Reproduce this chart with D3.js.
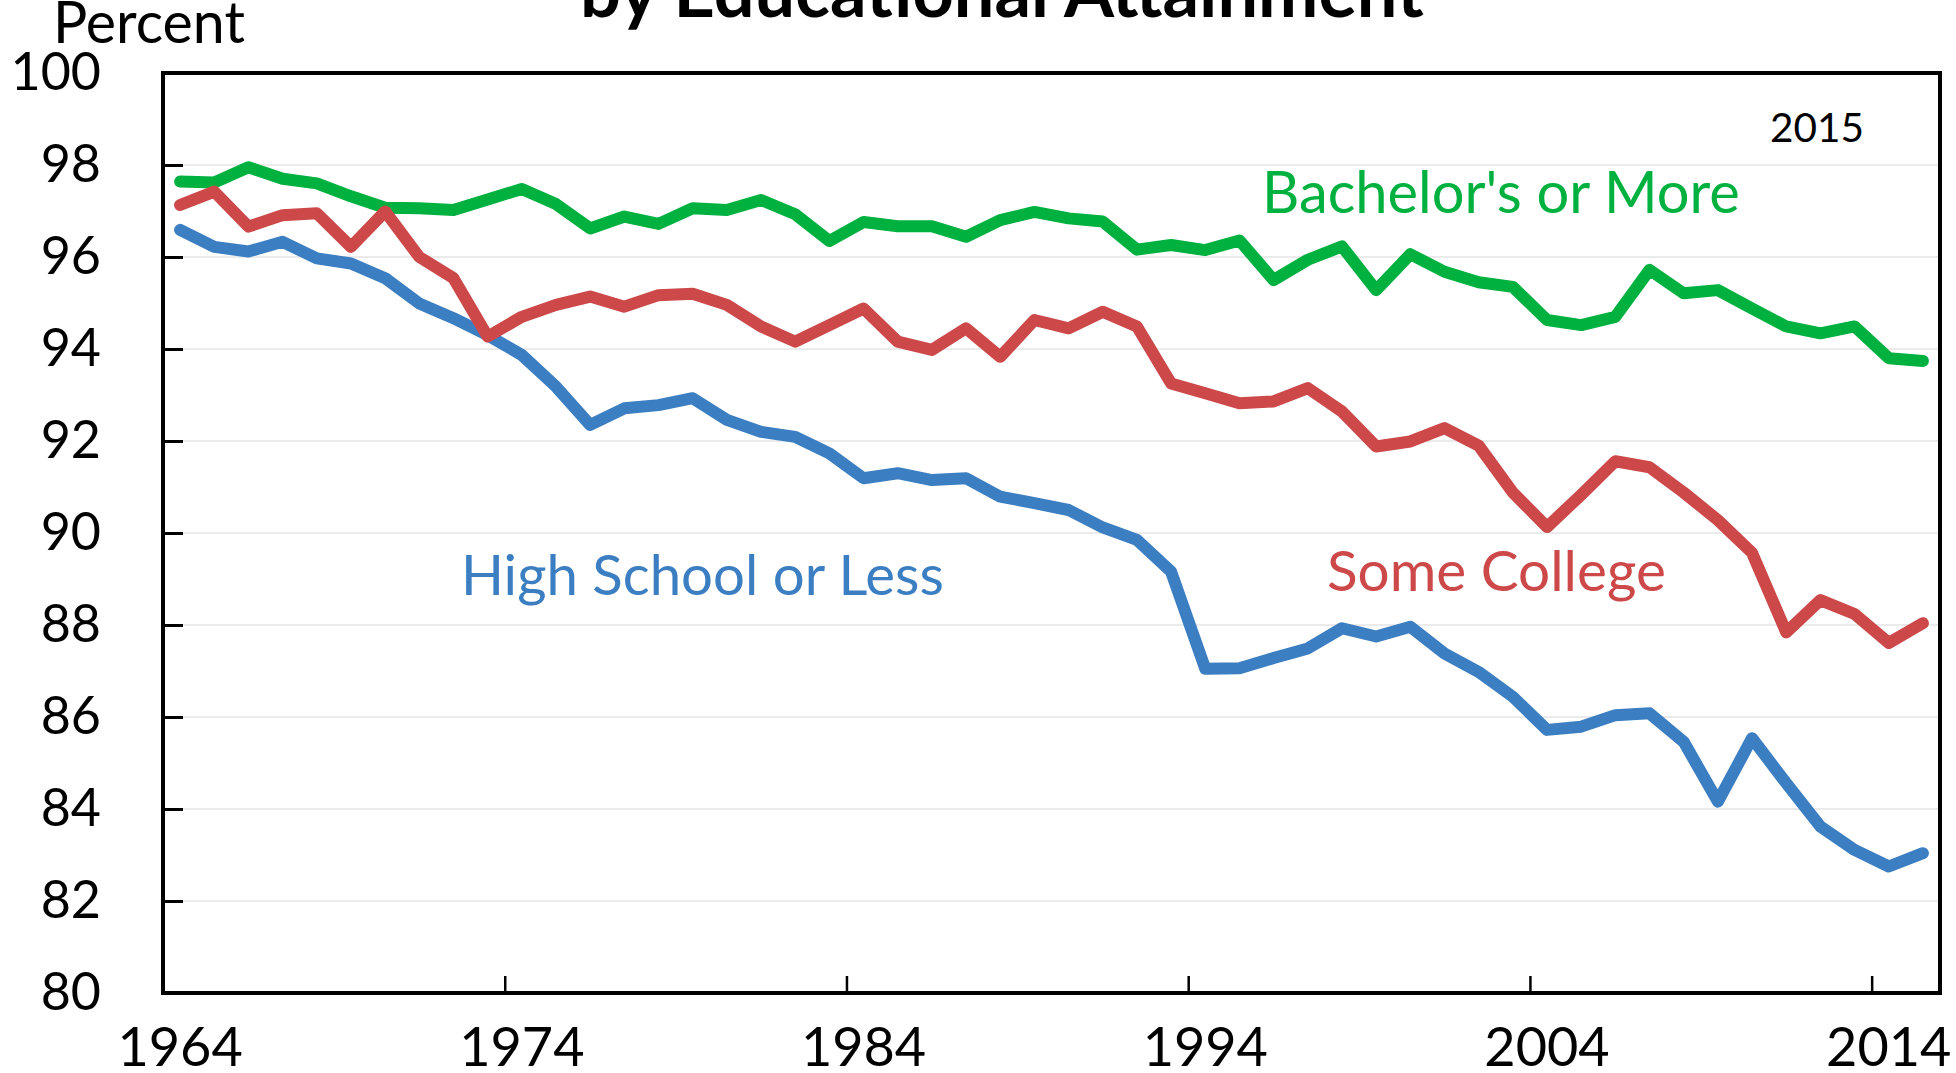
<!DOCTYPE html>
<html>
<head>
<meta charset="utf-8">
<script src="https://cdn.jsdelivr.net/npm/d3@7/dist/d3.min.js"></script>
<style>
  html, body { margin: 0; padding: 0; background: #fff; }
  svg { display: block; }
  text { font-family: Lato, "Open Sans", sans-serif; }
</style>
</head>
<body>
<svg id="chart" width="1956" height="1073"></svg>
<script>
const years = d3.range(1964, 2016);
const bachelorsOrMore = [97.64, 97.62, 97.95, 97.70, 97.60, 97.32, 97.07, 97.06, 97.02, 97.25,
  97.48, 97.15, 96.62, 96.88, 96.72, 97.06, 97.02, 97.24, 96.93, 96.35,
  96.76, 96.67, 96.67, 96.44, 96.80, 96.98, 96.84, 96.77, 96.16, 96.26,
  96.15, 96.36, 95.50, 95.94, 96.23, 95.28, 96.06, 95.68, 95.45, 95.35,
  94.63, 94.52, 94.70, 95.72, 95.21, 95.28, 94.88, 94.49, 94.34, 94.49,
  93.80, 93.74];
const someCollege = [97.13, 97.42, 96.66, 96.91, 96.95, 96.22, 96.99, 96.00, 95.54, 94.27,
  94.70, 94.96, 95.14, 94.92, 95.17, 95.20, 94.96, 94.49, 94.16, 94.52,
  94.88, 94.16, 93.98, 94.45, 93.83, 94.63, 94.45, 94.81, 94.49, 93.25,
  93.04, 92.82, 92.86, 93.15, 92.64, 91.88, 91.99, 92.28, 91.90, 90.88,
  90.13, 90.83, 91.56, 91.43, 90.88, 90.28, 89.57, 87.84, 88.54, 88.24,
  87.61, 88.04];
const highSchoolOrLess = [96.59, 96.22, 96.12, 96.33, 95.97, 95.86, 95.54, 94.99, 94.67, 94.30,
  93.87, 93.18, 92.35, 92.71, 92.78, 92.93, 92.46, 92.20, 92.09, 91.73,
  91.19, 91.30, 91.15, 91.19, 90.79, 90.65, 90.50, 90.12, 89.85, 89.16,
  87.05, 87.06, 87.28, 87.49, 87.93, 87.75, 87.96, 87.38, 86.98, 86.44,
  85.72, 85.79, 86.04, 86.08, 85.46, 84.16, 85.54, 84.56, 83.62, 83.11,
  82.75, 83.04];
const yTicks = [80, 82, 84, 86, 88, 90, 92, 94, 96, 98, 100];
const xTickYears = [1974, 1984, 1994, 2004, 2014];
const xLabelYears = [1964, 1974, 1984, 1994, 2004, 2014];
const seriesNames = ["Bachelor's or More", "High School or Less", "Some College"];

const svg = d3.select("#chart");
const L = 163, R = 1940, T = 73, B = 993;

const x = d3.scaleBand().domain(years).range([L, R]).padding(0);
const xEdge = d3.scaleLinear().domain([1964, 2016]).range([L, R]);
const y = d3.scaleLinear().domain([80, 100]).range([B, T]);

// gridlines
svg.append("g").selectAll("line")
  .data(yTicks.filter(v => v > 80 && v < 100))
  .join("line")
  .attr("x1", L).attr("x2", R)
  .attr("y1", d => y(d)).attr("y2", d => y(d))
  .attr("stroke", "#ebebeb").attr("stroke-width", 2);

// y axis
const yAxis = svg.append("g").attr("transform", `translate(${L},0)`)
  .call(d3.axisLeft(y).tickValues(yTicks).tickSize(-20).tickPadding(62).tickFormat(d3.format("d")));
yAxis.select(".domain").remove();
yAxis.selectAll(".tick line").attr("stroke", "#000").attr("stroke-width", 3);
yAxis.selectAll(".tick text").attr("font-size", 52).attr("fill", "#000").attr("font-family", "Lato");

// x axis ticks (category boundaries)
const xTickAxis = svg.append("g").attr("transform", `translate(0,${B})`)
  .call(d3.axisBottom(xEdge).tickValues(xTickYears).tickSize(-17).tickFormat(""));
xTickAxis.select(".domain").remove();
xTickAxis.selectAll(".tick line").attr("stroke", "#000").attr("stroke-width", 2.5);

// x axis labels (category centres)
const xLabAxis = svg.append("g").attr("transform", `translate(0,${B})`)
  .call(d3.axisBottom(x).tickValues(xLabelYears).tickSize(0).tickPadding(35));
xLabAxis.select(".domain").remove();
xLabAxis.selectAll(".tick text").attr("font-size", 54).attr("fill", "#000").attr("font-family", "Lato");

// frame
svg.append("rect").attr("x", L).attr("y", T).attr("width", R - L).attr("height", B - T)
  .attr("fill", "none").attr("stroke", "#000").attr("stroke-width", 4);

const line = d3.line().x((d, i) => x(years[i]) + x.bandwidth() / 2).y(d => y(d));
const series = [
  { values: bachelorsOrMore, color: "#00B140" },
  { values: highSchoolOrLess, color: "#3B7EC1" },
  { values: someCollege, color: "#CD4849" }
];
svg.append("g").selectAll("path").data(series).join("path")
  .attr("d", d => line(d.values))
  .attr("fill", "none")
  .attr("stroke", d => d.color)
  .attr("stroke-width", 12)
  .attr("stroke-linejoin", "round")
  .attr("stroke-linecap", "round");

function fit(sel, target) {
  const w = sel.node().getComputedTextLength();
  const fs = parseFloat(sel.attr("font-size"));
  sel.attr("font-size", fs * target / w);
}

// texts
fit(svg.append("text").attr("x", 580).attr("y", 17).attr("font-size", 60).attr("font-weight", "bold")
  .attr("fill", "#000").text("by Educational Attainment"), 844);
fit(svg.append("text").attr("x", 53).attr("y", 43).attr("font-size", 46).attr("fill", "#000").text("Percent"), 192);
fit(svg.append("text").attr("x", 1770).attr("y", 142).attr("font-size", 40).attr("fill", "#000").text("2015"), 94);
fit(svg.append("text").attr("x", 1262).attr("y", 213).attr("font-size", 48).attr("fill", "#00B140").text(seriesNames[0]), 478);
fit(svg.append("text").attr("x", 461).attr("y", 595).attr("font-size", 48).attr("fill", "#3B7EC1").text(seriesNames[1]), 483);
fit(svg.append("text").attr("x", 1327).attr("y", 591).attr("font-size", 48).attr("fill", "#CD4849").text(seriesNames[2]), 339);
</script>
</body>
</html>
